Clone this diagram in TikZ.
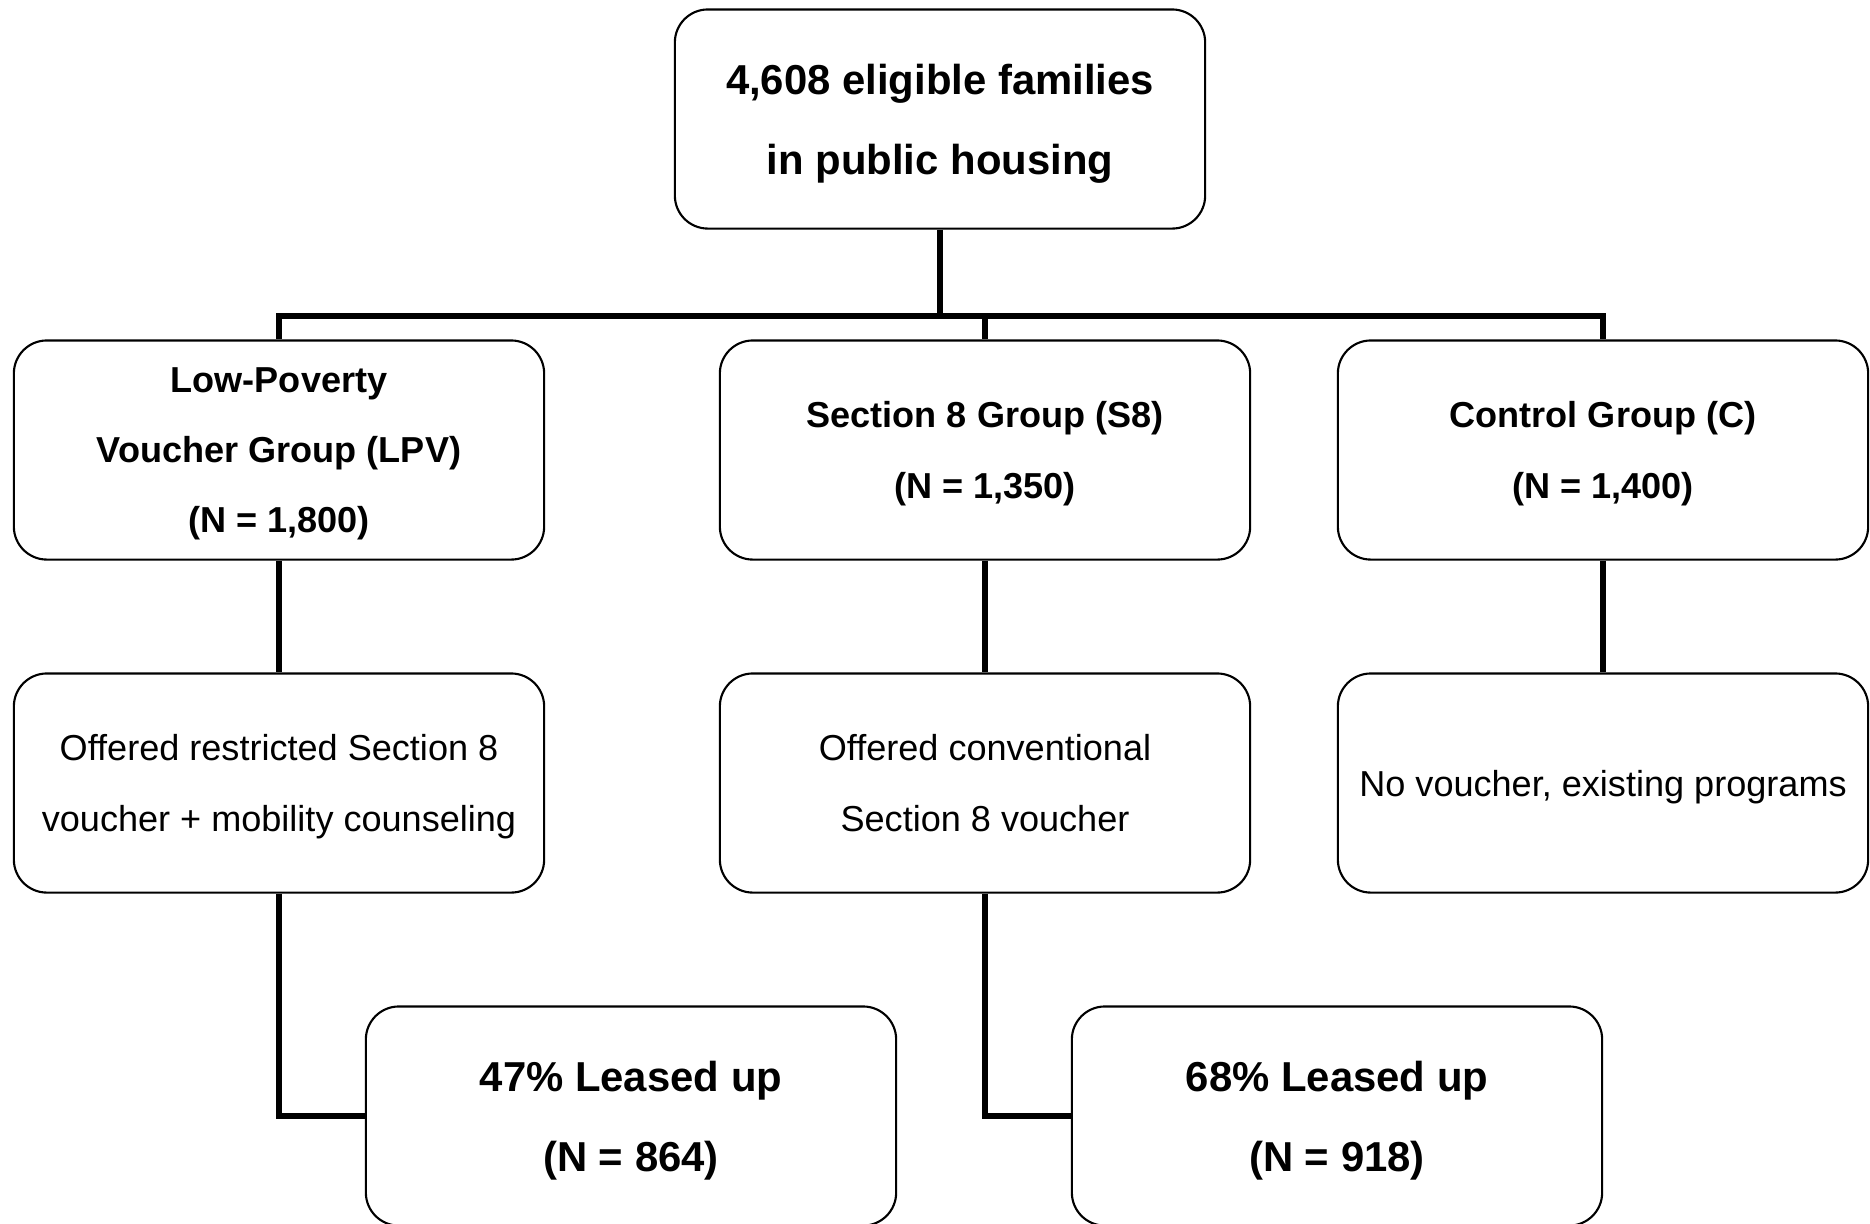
\documentclass[tikz,border=0pt]{standalone}
\usepackage{fontspec}
\setmainfont{Liberation Sans}
\usepackage{tikz}

\tikzset{
	box/.style={draw,line width=0.6pt,rounded corners=0.33cm,minimum width=5.3cm,minimum height=2.19cm,align=center,inner sep=0pt,text depth=0pt},
	bigtext/.style={font=\fontsize{11.9pt}{22.8pt}\selectfont\bfseries},
	midtext/.style={font=\fontsize{10.26pt}{20pt}\selectfont\bfseries},
	plaintext/.style={font=\fontsize{10.26pt}{20pt}\selectfont},
	link/.style={line width=1.9pt}
}

\begin{document}
\begin{tikzpicture}[x=0.01cm,y=-0.01cm]
	\useasboundingbox (0,0) rectangle (1870,1223);
	\node[box,bigtext] (top) at (940,119) {4,608 eligible families\\in public housing};
	\node[box,midtext] (lpv) at (279,450) {Low-Poverty\\Voucher Group (LPV)\\(N = 1,800)};
	\node[box,midtext] (seca) at (985,450) {Section 8 Group (S8)\\(N = 1,350)};
	\node[box,midtext] (ctrl) at (1603,450) {Control Group (C)\\(N = 1,400)};
	\node[box,plaintext] (lpvoff) at (279,783) {Offered restricted Section 8\\voucher + mobility counseling};
	\node[box,plaintext] (secoff) at (985,783) {Offered conventional\\Section 8 voucher};
	\node[box,plaintext] (ctrloff) at (1603,783) {No voucher, existing programs};
	\node[box,bigtext] (lpvlease) at (631,1116) {47\% Leased up\\(N = 864)};
	\node[box,bigtext] (seclease) at (1337,1116) {68\% Leased up\\(N = 918)};
	\coordinate (bus) at (940,316);
	\draw[link] (top.south) -- (bus) -| (lpv.north);
	\draw[link] (bus) -| (seca.north);
	\draw[link] (bus) -| (ctrl.north);
	\draw[link] (lpv.south) -- (lpvoff.north);
	\draw[link] (seca.south) -- (secoff.north);
	\draw[link] (ctrl.south) -- (ctrloff.north);
	\draw[link] (lpvoff.south) |- (lpvlease.west);
	\draw[link] (secoff.south) |- (seclease.west);
\end{tikzpicture}
\end{document}
